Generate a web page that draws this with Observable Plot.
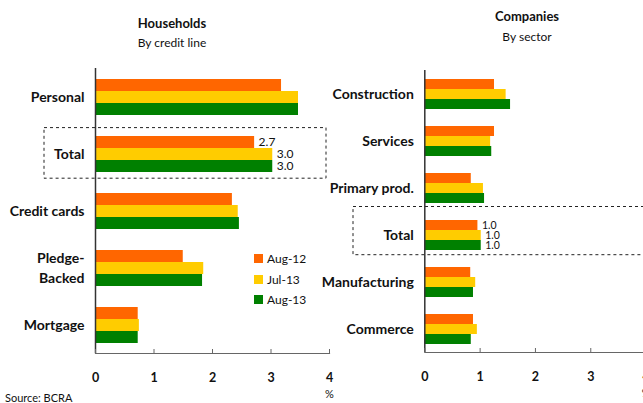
<!DOCTYPE html>
<html>
<head>
<meta charset="utf-8">
<script src="https://cdn.jsdelivr.net/npm/d3@7"></script>
<script src="https://cdn.jsdelivr.net/npm/@observablehq/plot@0.6"></script>
<style>
  body { margin: 0; background: #fff; }
  #wrap { position: relative; width: 643px; height: 403px; overflow: hidden; background: #fff; font-family: Lato, "Open Sans", sans-serif; color: #111; }
  .abs { position: absolute; white-space: nowrap; }
  .title { font-weight: bold; font-size: 13px; transform: translate(-50%, -50%); }
  .sub { font-size: 12px; transform: translate(-50%, -50%); }
  .sw { position: absolute; width: 9px; height: 9px; }
  .lt { position: absolute; font-size: 12px; transform: translateY(-50%); }
</style>
</head>
<body>
<div id="wrap"></div>
<script>
// ---- data ----
const series = ["Aug-12", "Jul-13", "Aug-13"];
const seriesColors = ["#FF6600", "#FFCC00", "#008000"];
const xTicks = [0, 1, 2, 3, 4];

const hhCategories = ["Personal", "Total", "Credit cards", "Pledge-\nBacked", "Mortgage"];
const hhAug12 = [3.18, 2.72, 2.34, 1.50, 0.73];
const hhJul13 = [3.47, 3.03, 2.44, 1.85, 0.75];
const hhAug13 = [3.47, 3.03, 2.46, 1.83, 0.73];

const coCategories = ["Construction", "Services", "Primary prod.", "Total", "Manufacturing", "Commerce"];
const coAug12 = [1.26, 1.26, 0.84, 0.96, 0.83, 0.88];
const coJul13 = [1.47, 1.19, 1.06, 1.02, 0.92, 0.95];
const coAug13 = [1.55, 1.21, 1.08, 1.02, 0.88, 0.84];

const fmt = d3.format(".1f");

function rowsOf(categories, lists) {
  const rows = [];
  categories.forEach((c, i) => {
    series.forEach((s, j) => rows.push({category: c, series: s, value: lists[j][i]}));
  });
  return rows;
}

function panel(o) {
  const rows = rowsOf(o.categories, o.lists);
  return Plot.plot({
    width: o.width,
    height: 403,
    marginTop: 67,
    marginBottom: 49,
    marginLeft: o.marginLeft,
    marginRight: o.marginRight,
    style: {fontFamily: "Lato, 'Open Sans', sans-serif", fontSize: "12px", color: "#111", background: "transparent", overflow: "visible"},
    x: {domain: [0, 4]},
    y: {domain: series, paddingInner: 0, paddingOuter: o.padOuter, axis: null},
    fy: {domain: o.categories, padding: 0, axis: null},
    color: {domain: series, range: seriesColors},
    marks: [
      Plot.rect(["Total"], {fy: d => d, fill: "none", stroke: "#222", strokeWidth: 1, strokeDasharray: "3,3",
        insetLeft: o.box[0], insetRight: o.box[1], insetTop: o.box[2], insetBottom: o.box[3]}),
      Plot.barX(rows, {x: "value", y: "series", fy: "category", fill: "series"}),
      Plot.text(rows.filter(d => d.category === "Total"), {x: "value", y: "series", fy: "category",
        text: d => fmt(d.value), textAnchor: "start", dx: 4, fontSize: o.valueSize, fill: "#111"}),
      Plot.text(o.categories, {fy: d => d, text: d => d, frameAnchor: "left", textAnchor: "end", dx: -11, dy: -1.5,
        fontWeight: "bold", fontSize: 14, lineHeight: 1.45, fill: "#111"}),
      Plot.ruleX([0], {stroke: "#333", strokeWidth: 1.5}),
      Plot.frame({anchor: "bottom", facetAnchor: "bottom", stroke: "#666", strokeWidth: 1.2}),
      Plot.axisX(xTicks, {anchor: "bottom", tickSize: -4, tickPadding: 24, fontWeight: "bold", fontSize: 12.5, stroke: "#666", label: null}),
      Plot.text(["%"], {x: () => 4, frameAnchor: "bottom", facetAnchor: "bottom", dy: 44, fontSize: 11, fill: "#111"})
    ]
  });
}

const wrap = document.getElementById("wrap");

const left = panel({
  categories: hhCategories,
  lists: [hhAug12, hhJul13, hhAug13],
  width: 340, marginLeft: 95, marginRight: 11,
  padOuter: 0.71, valueSize: 12,
  box: [-51, 3, 2.6, 3.8]
});
left.style.position = "absolute"; left.style.left = "0px"; left.style.top = "0px";
wrap.appendChild(left);

const right = panel({
  categories: coCategories,
  lists: [coAug12, coJul13, coAug13],
  width: 325, marginLeft: 94.3, marginRight: 9.4,
  padOuter: 0.67, valueSize: 10.5,
  box: [-71.3, -10, -4.5, 3.3]
});
right.style.position = "absolute"; right.style.left = "330px"; right.style.top = "0px";
wrap.appendChild(right);

// titles
function addDiv(cls, text, x, y) {
  const d = document.createElement("div");
  d.className = "abs " + cls;
  d.textContent = text;
  d.style.left = x + "px"; d.style.top = y + "px";
  wrap.appendChild(d);
  return d;
}
addDiv("title", "Households", 172, 23);
addDiv("sub", "By credit line", 172, 42);
addDiv("title", "Companies", 527, 16);
addDiv("sub", "By sector", 527, 36);
const src = addDiv("", "Source: BCRA", 5, 391);
src.style.fontSize = "11px";

// legend
const legendY = [258, 279, 299];
series.forEach((s, i) => {
  const sw = document.createElement("div");
  sw.className = "sw";
  sw.style.left = "254px"; sw.style.top = (legendY[i] - 4.5) + "px";
  sw.style.background = seriesColors[i];
  wrap.appendChild(sw);
  const t = document.createElement("div");
  t.className = "lt";
  t.textContent = s;
  t.style.left = "267px"; t.style.top = legendY[i] + "px";
  wrap.appendChild(t);
});
</script>
</body>
</html>
